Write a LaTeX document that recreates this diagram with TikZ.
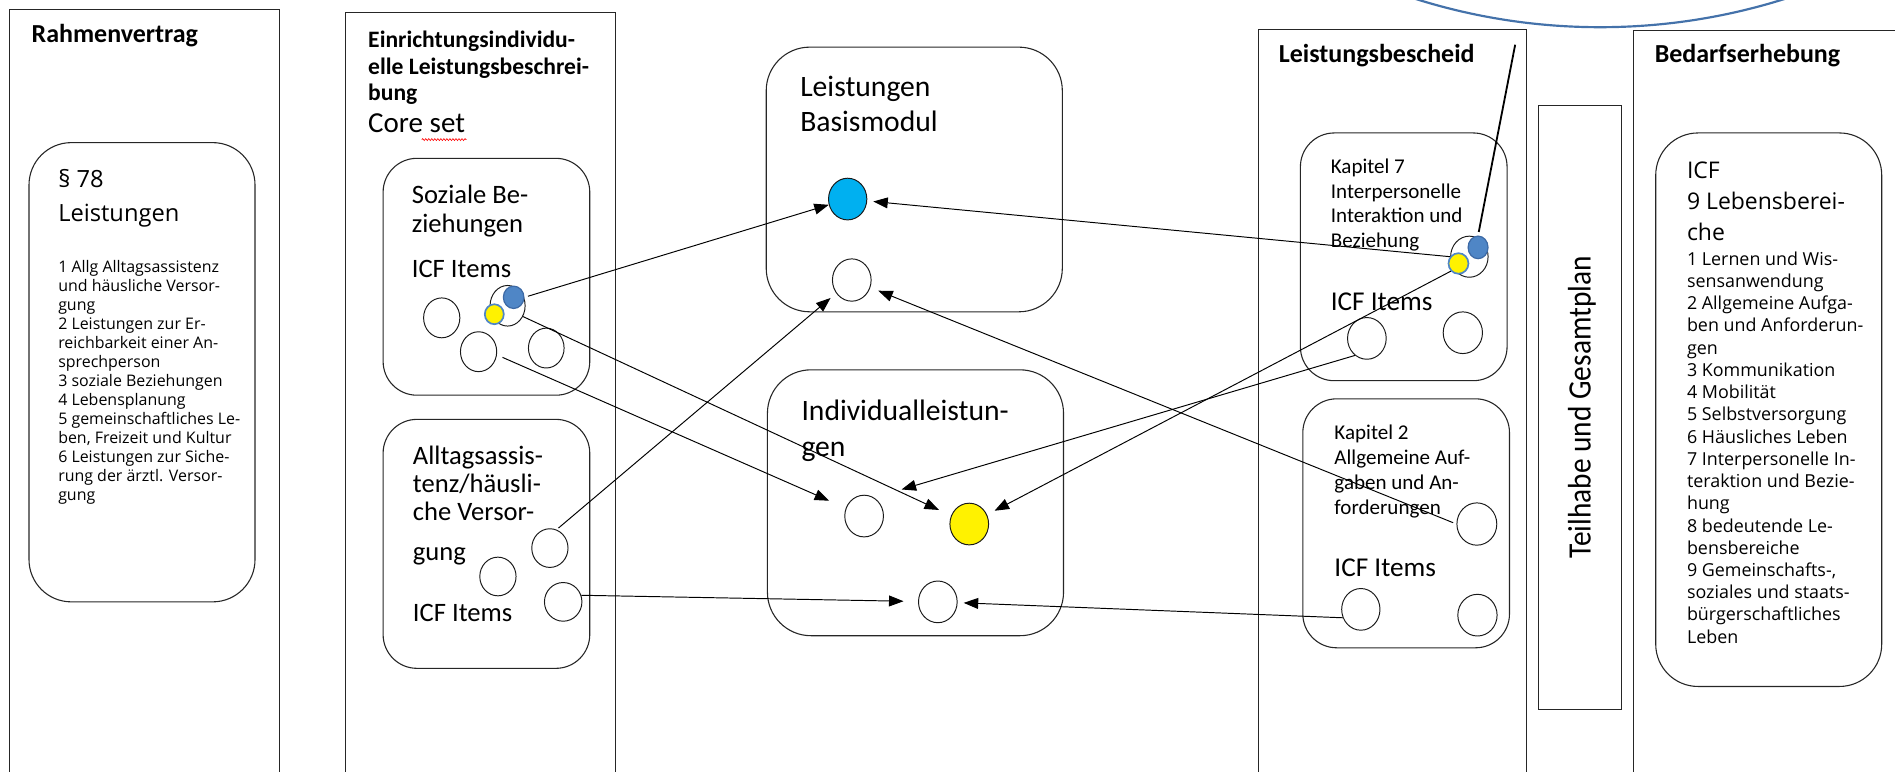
\documentclass[tikz,border=0pt]{standalone}
\usepackage{fontspec}
\usepackage{graphicx}
\setmainfont{Carlito}
\newfontfamily\osans{Open Sans}
\usetikzlibrary{shapes.geometric,arrows.meta,decorations.pathmorphing}
\definecolor{dotblue}{RGB}{79,134,198}
\definecolor{dotblueb}{RGB}{60,105,165}
\definecolor{cyanfill}{RGB}{0,176,240}
\definecolor{arcblue}{RGB}{68,114,170}
\newcommand{\mlines}[1]{\begin{tabular}[t]{@{}l@{}}#1\end{tabular}}
\begin{document}
\begin{tikzpicture}[x=1pt,y=-1pt,
  frame/.style={draw=black!85, line width=0.8pt},
  rbox/.style={draw=black!85, line width=0.9pt, rounded corners=#1},
  circ/.style 2 args={ellipse, draw=black!90, line width=0.8pt, inner sep=0pt, minimum width=#1pt, minimum height=#2pt},
  bdot/.style 2 args={ellipse, draw=dotblueb, fill=dotblue, line width=1pt, inner sep=0pt, minimum width=#1pt, minimum height=#2pt},
  ydot/.style 2 args={ellipse, draw=dotblue, fill=yellow, line width=1.4pt, inner sep=0pt, minimum width=#1pt, minimum height=#2pt},
  tl/.style={anchor=base west, inner sep=0pt},
  hd/.style={tl, font=\bfseries\fontsize{21.5}{24}\selectfont},
  arr/.style={-{Triangle[length=12pt,width=9pt]}, line width=0.8pt},
]
\useasboundingbox (0,0) rectangle (1568,638);

% outer frames
\draw[frame] (8,650) |- (231,8) -- (231,650);
\draw[frame] (286,650) |- (509,10) -- (509,650);
\draw[frame] (1041,650) |- (1263,24) -- (1263,650);
\draw[frame] (1352,650) |- (1580,25);
\draw[frame] (1273,87) rectangle (1342,587);

% blue arc at the top
\begin{scope}
\clip (0,0) rectangle (1568,638);
\draw[arcblue, line width=1.8pt] (1324,-484.5) circle[radius=507pt];
\end{scope}

% headings
\node[hd] (trv) at (26,35) {Rahmenvertrag};
\node[tl, font=\bfseries\fontsize{19.5}{22}\selectfont] (tei) at (304.5,39.5) {\mlines{Einrichtungsindividu-\\elle Leistungsbeschrei-\\bung}};
\node[tl, font=\fontsize{24}{28}\selectfont] (tcore) at (304.5,110) {Core set};
\draw[red, line width=0.5pt, decorate, decoration={snake, amplitude=0.8pt, segment length=2.5pt}] (349,115.5) -- (386,115.5);
\node[hd] (tlb) at (1058,52) {Leistungsbescheid};
\node[hd] (tbe) at (1369,52) {Bedarfserhebung};

% rounded boxes
\draw[rbox=35] (24,118) rectangle (211,498);
\draw[rbox=28] (317,131) rectangle (488,327);
\draw[rbox=28] (317,347) rectangle (488,553);
\draw[rbox=36] (634,39) rectangle (879,258);
\draw[rbox=36] (635,306) rectangle (880,526);
\draw[rbox=28] (1076,110) rectangle (1247,315);
\draw[rbox=28] (1078,330) rectangle (1249,536);
\draw[rbox=35] (1370,110) rectangle (1557,568);

% texts
\node[tl, font=\osans\fontsize{19.6}{28}\selectfont] (t78) at (48,155) {\mlines{§ 78\\Leistungen}};
\node[tl, font=\osans\fontsize{13.2}{15.75}\selectfont] (t78l) at (48,225.5) {\mlines{1 Allg Alltagsassistenz\\und häusliche Versor-\\gung\\2 Leistungen zur Er-\\reichbarkeit einer An-\\sprechperson\\3 soziale Beziehungen\\4 Lebensplanung\\5 gemeinschaftliches Le-\\ben, Freizeit und Kultur\\6 Leistungen zur Siche-\\rung der ärztl. Versor-\\gung}};
\node[tl, font=\fontsize{22}{24.5}\selectfont] (tsoz) at (340.6,168) {\mlines{Soziale Be-\\ziehungen}};
\node[tl, font=\fontsize{22}{24}\selectfont] (tsicf) at (340.6,230) {ICF Items};
\node[tl, font=\fontsize{22}{23.5}\selectfont] (tall) at (341.5,384) {\mlines{Alltagsassis-\\tenz/häusli-\\che Versor-\\[9pt]gung}};
\node[tl, font=\fontsize{22}{24}\selectfont] (taicf) at (341.5,514.5) {ICF Items};
\node[tl, font=\fontsize{24.5}{28.4}\selectfont] (tbas) at (662,80) {\mlines{Leistungen\\Basismodul}};
\node[tl, font=\fontsize{24.5}{29.4}\selectfont] (tind) at (663,348) {\mlines{Individualleistun-\\gen}};
\node[tl, font=\fontsize{17.4}{20.6}\selectfont] (tk7) at (1101,143.3) {\mlines{Kapitel 7\\Interpersonelle\\Interaktion und\\Beziehung}};
\node[tl, font=\fontsize{22.5}{24}\selectfont] (tk7icf) at (1101,256.5) {ICF Items};
\node[tl, font=\fontsize{17.4}{20.6}\selectfont] (tk2) at (1104,364) {\mlines{Kapitel 2\\Allgemeine Auf-\\gaben und An-\\forderungen}};
\node[tl, font=\fontsize{22.5}{24}\selectfont] (tk2icf) at (1104,476.6) {ICF Items};
\node[rotate=90, inner sep=0pt, font=\fontsize{27}{30}\selectfont] (tth) at (1309,337) {\scalebox{0.9}[1]{Teilhabe und Gesamtplan}};
\node[tl, font=\osans\fontsize{19}{25.5}\selectfont] (ticf) at (1395.7,148) {\mlines{ICF\\9 Lebensberei-\\che}};
\node[tl, font=\osans\fontsize{14.8}{18.4}\selectfont] (tlr) at (1395.7,219.4) {\mlines{1 Lernen und Wis-\\sensanwendung\\2 Allgemeine Aufga-\\ben und Anforderun-\\gen\\3 Kommunikation\\4 Mobilität\\5 Selbstversorgung\\6 Häusliches Leben\\7 Interpersonelle In-\\teraktion und Bezie-\\hung\\8 bedeutende Le-\\bensbereiche\\9 Gemeinschafts-,\\soziales und staats-\\bürgerschaftliches\\Leben}};

% circles: Soziale Beziehungen
\node[circ={30}{33}] (sc1) at (365.5,263) {};
\node[circ={29}{33.6}] (sp) at (420,253) {};
\node[bdot={17}{18.5}] (spb) at (425,246) {};
\node[ydot={15.7}{16.5}] (spy) at (409,260) {};
\node[circ={30}{33}] (sc3) at (396,291) {};
\node[circ={29.5}{33}] (sc4) at (452,288) {};
% Alltagsassistenz
\node[circ={30}{32}] (a1) at (455,453.5) {};
\node[circ={30}{32}] (a2) at (412,477) {};
\node[circ={31}{32}] (a3) at (466,498) {};
% Basismodul
\node[circ={31.7}{34.5}, fill=cyanfill] (bb) at (701.4,164.7) {};
\node[circ={32}{35}] (bw) at (704.8,231.7) {};
% Individualleistungen
\node[circ={32}{34.5}] (i1) at (715,427) {};
\node[circ={32}{34.5}, fill=yellow] (iy) at (802,433.6) {};
\node[circ={32}{34.5}] (i3) at (776,498) {};
% Kapitel 7
\node[circ={31}{34}] (k7p) at (1215.8,212.4) {};
\node[bdot={16.5}{18.7}] (k7b) at (1223,204.7) {};
\node[ydot={16.5}{17}] (k7y) at (1206.8,218) {};
\node[circ={32}{34.5}] (k7c1) at (1131,280) {};
\node[circ={32.5}{34.5}] (k7c2) at (1210.4,275.3) {};
% Kapitel 2
\node[circ={33}{35}] (k2c1) at (1222,433.6) {};
\node[circ={31.7}{34.5}] (k2c2) at (1126,504.2) {};
\node[circ={32.5}{34.5}] (k2c3) at (1222.5,509) {};

% free ends
\coordinate (t7) at (746,405);
\coordinate (ktop) at (1253.7,37);

% connectors
\draw[arr, shorten <=3pt] (spb.east) -- (bb);
\draw[arr, shorten >=5pt] (k7p.west) -- (bb);
\draw[arr, shorten >=11pt] (sp.-35) -- (iy);
\draw[arr, shorten <=5pt, shorten >=15pt] (sc3.-10) -- (i1);
\draw[arr, shorten <=2pt, shorten >=6pt] (a1.70) -- (bw);
\draw[arr, shorten <=3pt, shorten >=7pt] (k2c1.west) -- (bw);
\draw[arr] (k7c1.-125) -- (t7);
\draw[arr, shorten >=7pt] (k7y.225) -- (iy);
\draw[arr, shorten >=12pt] (a3.20) -- (i3);
\draw[arr, shorten >=5pt] (k2c2.205) -- (i3);
\draw[line width=1.5pt, shorten <=3pt] (k7b.north) -- (ktop);
\end{tikzpicture}
\end{document}
